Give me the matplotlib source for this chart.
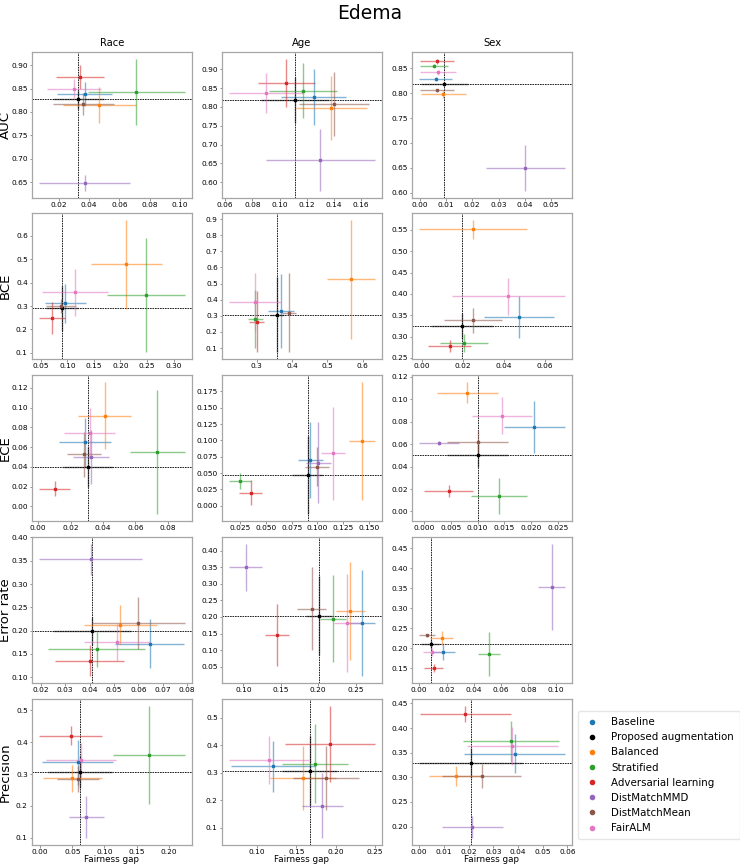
import matplotlib
matplotlib.use("Agg")
import matplotlib.pyplot as plt
from matplotlib.lines import Line2D
from matplotlib.ticker import MultipleLocator
import numpy as np

methods = ["Baseline", "Proposed augmentation", "Balanced", "Stratified",
           "Adversarial learning", "DistMatchMMD", "DistMatchMean", "FairALM"]
colors = ["#1f77b4", "#000000", "#ff7f0e", "#2ca02c",
          "#d62728", "#9467bd", "#8c564b", "#e377c2"]
attributes = ["Race", "Age", "Sex"]
metrics = ["AUC", "BCE", "ECE", "Error rate", "Precision"]
nan = float("nan")

# ---- AUC ----
race_auc_gap = [0.0372, 0.033, 0.0467, 0.071, 0.0341, 0.0372, 0.0363, 0.030]
race_auc_gap_err = [0.018, 0.017, 0.024, 0.032, 0.016, 0.030, 0.020, 0.018]
race_auc_val = [0.838, 0.827, 0.815, 0.843, 0.874, 0.647, 0.817, 0.850]
race_auc_val_err = [0.026, 0.02, 0.039, 0.071, 0.026, 0.017, 0.023, 0.02]

age_auc_gap = [0.125, 0.111, 0.138, 0.117, 0.105, 0.130, 0.140, 0.090]
age_auc_gap_err = [0.024, 0.025, 0.026, 0.025, 0.021, 0.040, 0.026, 0.027]
age_auc_val = [0.826, 0.818, 0.798, 0.843, 0.864, 0.659, 0.808, 0.838]
age_auc_val_err = [0.074, 0.06, 0.085, 0.073, 0.064, 0.083, 0.085, 0.053]

sex_auc_gap = [0.0061, 0.0094, 0.009, 0.0054, 0.0065, 0.0402, 0.0065, 0.0069]
sex_auc_gap_err = [0.0063, 0.009, 0.0087, 0.0054, 0.0066, 0.015, 0.0066, 0.0069]
sex_auc_val = [0.829, 0.818, 0.798, 0.855, 0.864, 0.649, 0.806, 0.842]
sex_auc_val_err = [0.004, 0.004, 0.007, 0.003, 0.005, 0.046, 0.003, 0.005]

# ---- BCE ----
race_bce_gap = [0.096, 0.090, 0.211, 0.248, 0.071, nan, 0.088, 0.115]
race_bce_gap_err = [0.039, 0.03, 0.067, 0.073, 0.024, nan, 0.029, 0.062]
race_bce_val = [0.311, 0.290, 0.479, 0.347, 0.248, nan, 0.301, 0.359]
race_bce_val_err = [0.085, 0.095, 0.19, 0.245, 0.069, nan, 0.03, 0.1]

age_bce_gap = [0.369, 0.357, 0.567, 0.297, 0.300, nan, 0.391, 0.296]
age_bce_gap_err = [0.036, 0.02, 0.067, 0.022, 0.022, nan, 0.02, 0.073]
age_bce_val = [0.329, 0.308, 0.527, 0.283, 0.263, nan, 0.320, 0.386]
age_bce_val_err = [0.23, 0.23, 0.37, 0.18, 0.19, nan, 0.245, 0.18]

sex_bce_gap = [0.0474, 0.0197, 0.0252, 0.0206, 0.0137, nan, 0.025, 0.0422]
sex_bce_gap_err = [0.0172, 0.015, 0.0263, 0.0118, 0.0104, nan, 0.014, 0.0275]
sex_bce_val = [0.346, 0.325, 0.551, 0.284, 0.277, nan, 0.338, 0.394]
sex_bce_val_err = [0.049, 0.03, 0.023, 0.021, 0.014, nan, 0.029, 0.043]

# ---- ECE ----
race_ece_gap = [0.0289, 0.0309, 0.0410, 0.0736, 0.0101, 0.0326, 0.0283, 0.0318]
race_ece_gap_err = [0.016, 0.0155, 0.0163, 0.017, 0.0095, 0.011, 0.0105, 0.0156]
race_ece_val = [0.065, 0.0397, 0.092, 0.0547, 0.018, 0.050, 0.0527, 0.0747]
race_ece_val_err = [0.0247, 0.02, 0.0343, 0.0627, 0.0075, 0.027, 0.0225, 0.0253]

age_ece_gap = [0.093, 0.0905, 0.143, 0.0252, 0.0352, 0.1008, 0.0995, 0.115]
age_ece_gap_err = [0.012, 0.015, 0.0125, 0.0107, 0.011, 0.012, 0.012, 0.012]
age_ece_val = [0.0696, 0.0468, 0.099, 0.038, 0.020, 0.066, 0.0597, 0.080]
age_ece_val_err = [0.058, 0.06, 0.0908, 0.0125, 0.019, 0.062, 0.03, 0.0716]

sex_ece_gap = [0.0206, 0.010, 0.0081, 0.014, 0.0046, 0.0028, 0.010, 0.0146]
sex_ece_gap_err = [0.0057, 0.0057, 0.0057, 0.0052, 0.0046, 0.0037, 0.0057, 0.0056]
sex_ece_val = [0.075, 0.050, 0.106, 0.0136, 0.0183, 0.061, 0.0623, 0.0853]
sex_ece_val_err = [0.0233, 0.01, 0.0097, 0.0162, 0.0053, 0.002, 0.01, 0.0165]

# ---- Error rate ----
race_err_gap = [0.0646, 0.041, 0.0526, 0.0429, 0.040, 0.0404, 0.060, 0.0513]
race_err_gap_err = [0.014, 0.016, 0.015, 0.02, 0.014, 0.021, 0.019, 0.0135]
race_err_val = [0.172, 0.200, 0.213, 0.160, 0.136, 0.353, 0.216, 0.175]
race_err_val_err = [0.053, 0.03, 0.042, 0.0375, 0.034, 0.0336, 0.0555, 0.04]

age_err_gap = [0.258, 0.201, 0.243, 0.220, 0.145, 0.103, 0.191, 0.239]
age_err_gap_err = [0.0175, 0.017, 0.019, 0.0175, 0.016, 0.022, 0.019, 0.0175]
age_err_val = [0.181, 0.204, 0.217, 0.194, 0.145, 0.350, 0.224, 0.181]
age_err_val_err = [0.16, 0.12, 0.147, 0.131, 0.094, 0.0707, 0.125, 0.147]

sex_err_gap = [0.0176, 0.0085, 0.0165, 0.051, 0.0106, 0.097, 0.0056, 0.0092]
sex_err_gap_err = [0.0088, 0.007, 0.0085, 0.0079, 0.007, 0.0097, 0.0056, 0.0065]
sex_err_val = [0.192, 0.212, 0.226, 0.186, 0.150, 0.354, 0.233, 0.190]
sex_err_val_err = [0.022, 0.01, 0.018, 0.056, 0.01, 0.108, 0.004, 0.01]

# ---- Precision ----
race_prec_gap = [0.0586, 0.0623, 0.050, 0.169, 0.0476, 0.0718, 0.0586, 0.0637]
race_prec_gap_err = [0.055, 0.05, 0.046, 0.056, 0.049, 0.0275, 0.033, 0.054]
race_prec_val = [0.337, 0.307, 0.287, 0.361, 0.421, 0.164, 0.284, 0.343]
race_prec_val_err = [0.07, 0.05, 0.043, 0.154, 0.0295, 0.066, 0.04, 0.055]

age_prec_gap = [0.120, 0.167, 0.158, 0.174, 0.193, 0.183, 0.188, 0.115]
age_prec_gap_err = [0.054, 0.035, 0.042, 0.042, 0.057, 0.026, 0.042, 0.0506]
age_prec_val = [0.324, 0.306, 0.280, 0.333, 0.405, 0.180, 0.280, 0.345]
age_prec_val_err = [0.093, 0.127, 0.117, 0.143, 0.139, 0.119, 0.117, 0.087]

sex_prec_gap = [0.0386, 0.021, 0.0148, 0.037, 0.0186, 0.0215, 0.0253, 0.0376]
sex_prec_gap_err = [0.0203, 0.021, 0.0107, 0.0194, 0.0185, 0.0124, 0.016, 0.0184]
sex_prec_val = [0.348, 0.329, 0.303, 0.373, 0.429, 0.199, 0.303, 0.364]
sex_prec_val_err = [0.04, 0.03, 0.021, 0.041, 0.0166, 0.023, 0.025, 0.039]

# tick steps (x, y) per panel, as in the reference
tick_steps = [
    [(0.02, 0.05), (0.02, 0.05), (0.01, 0.05)],
    [(0.05, 0.1), (0.1, 0.1), (0.02, 0.05)],
    [(0.02, 0.02), (0.025, 0.025), (0.005, 0.02)],
    [(0.01, 0.05), (0.05, 0.05), (0.02, 0.05)],
    [(0.05, 0.1), (0.05, 0.1), (0.01, 0.05)],
]

panels = [
    [(race_auc_gap, race_auc_gap_err, race_auc_val, race_auc_val_err),
     (age_auc_gap, age_auc_gap_err, age_auc_val, age_auc_val_err),
     (sex_auc_gap, sex_auc_gap_err, sex_auc_val, sex_auc_val_err)],
    [(race_bce_gap, race_bce_gap_err, race_bce_val, race_bce_val_err),
     (age_bce_gap, age_bce_gap_err, age_bce_val, age_bce_val_err),
     (sex_bce_gap, sex_bce_gap_err, sex_bce_val, sex_bce_val_err)],
    [(race_ece_gap, race_ece_gap_err, race_ece_val, race_ece_val_err),
     (age_ece_gap, age_ece_gap_err, age_ece_val, age_ece_val_err),
     (sex_ece_gap, sex_ece_gap_err, sex_ece_val, sex_ece_val_err)],
    [(race_err_gap, race_err_gap_err, race_err_val, race_err_val_err),
     (age_err_gap, age_err_gap_err, age_err_val, age_err_val_err),
     (sex_err_gap, sex_err_gap_err, sex_err_val, sex_err_val_err)],
    [(race_prec_gap, race_prec_gap_err, race_prec_val, race_prec_val_err),
     (age_prec_gap, age_prec_gap_err, age_prec_val, age_prec_val_err),
     (sex_prec_gap, sex_prec_gap_err, sex_prec_val, sex_prec_val_err)],
]

W, H = 740, 867
fig = plt.figure(figsize=(W / 100, H / 100), dpi=100)
fig.suptitle("Edema", fontsize=13.5, y=1 - 4 / H, va="top")

col_left = [32, 222, 412]
col_w = 160
row_top = [52, 213, 375, 537, 699]
row_h = 146

for r in range(5):
    for c in range(3):
        ax = fig.add_axes([col_left[c] / W, 1 - (row_top[r] + row_h) / H,
                           col_w / W, row_h / H])
        gap, gap_err, val, val_err = panels[r][c]
        for i in range(len(methods)):
            if np.isnan(gap[i]):
                continue
            line, caps, bars = ax.errorbar(gap[i], val[i], xerr=gap_err[i], yerr=val_err[i],
                                           fmt="s", color=colors[i], markersize=2.0,
                                           elinewidth=1.0, capsize=0)
            for b in bars:
                b.set_alpha(0.55)
        ax.axvline(gap[1], color="k", ls=(0, (2, 1)), lw=0.6, zorder=0)
        ax.axhline(val[1], color="k", ls=(0, (2, 1)), lw=0.6, zorder=0)
        xs, ys = tick_steps[r][c]
        ax.xaxis.set_major_locator(MultipleLocator(xs))
        ax.yaxis.set_major_locator(MultipleLocator(ys))
        ax.tick_params(labelsize=5.3, length=1.8, width=0.5, color="0.4", pad=1.2)
        for s in ax.spines.values():
            s.set_color("0.65")
            s.set_linewidth(0.9)
        if r == 0:
            ax.set_title(attributes[c], fontsize=7.2, pad=4)
        if c == 0:
            ax.set_ylabel(metrics[r], fontsize=9.5, va="center")
            ax.yaxis.set_label_coords(-26.5 / col_w, 0.5)
        if r == 4:
            ax.set_xlabel("Fairness gap", fontsize=6.3, labelpad=0)

handles = [Line2D([0], [0], marker="o", color="w", markerfacecolor=colors[i],
                  markeredgecolor=colors[i], markersize=3, linestyle="None")
           for i in range(len(methods))]
fig.legend(handles, methods, loc="upper left", bbox_to_anchor=(578 / W, 1 - 711 / H),
           borderaxespad=0, fontsize=7.4, frameon=True, handlelength=1.6,
           handletextpad=1.0, labelspacing=0.5, borderpad=0.6, edgecolor="0.88")

fig.savefig("out.png", dpi=100)
